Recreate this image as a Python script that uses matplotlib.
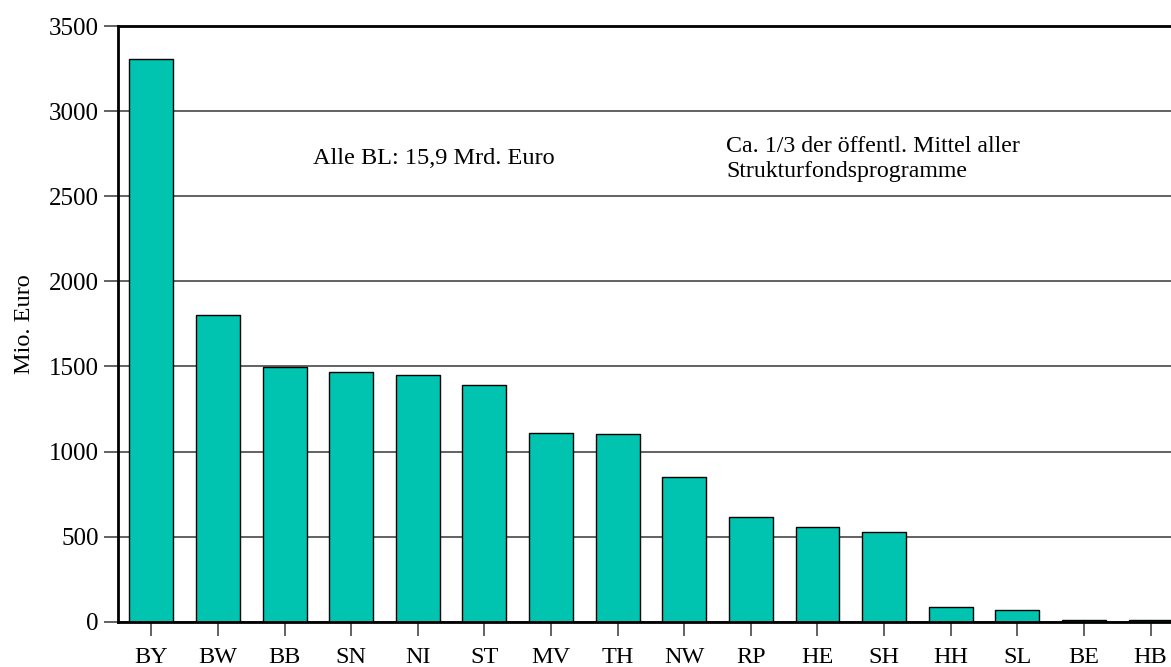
import matplotlib
matplotlib.use("Agg")
import matplotlib.pyplot as plt
from matplotlib.ticker import MultipleLocator

# Strukturfondsmittel je Bundesland (Mio. Euro)
laender = ["BY", "BW", "BB", "SN", "NI", "ST", "MV", "TH",
           "NW", "RP", "HE", "SH", "HH", "SL", "BE", "HB"]
mittel = [3308, 1805, 1497, 1470, 1449, 1388, 1108, 1104,
          850, 615, 554, 528, 85, 67, 8, 8]

plt.rcParams["font.family"] = ["Liberation Serif", "DejaVu Serif"]

fig = plt.figure(figsize=(11.71, 6.67), dpi=100)
ax = fig.add_axes([0.1008, 0.0679, 0.9102, 0.8931])

x = range(len(laender))
ax.bar(x, mittel, width=0.66, color="#00C4B0", edgecolor="black",
       linewidth=1.0, zorder=3)

ax.set_xlim(-0.5, len(laender) - 0.5)
ax.set_ylim(0, 3500)
ax.yaxis.set_major_locator(MultipleLocator(500))
ax.set_xticks(list(x))
ax.set_xticklabels(laender)

ax.grid(axis="y", color="#555555", linewidth=1.3, zorder=1)
ax.set_axisbelow(True)

for side in ("top", "left", "bottom"):
    ax.spines[side].set_linewidth(2.0)
    ax.spines[side].set_color("black")
    ax.spines[side].set_zorder(4)
ax.spines["right"].set_visible(False)

ax.tick_params(axis="y", length=10, width=1.3, color="#555555",
               labelsize=18, pad=4)
ax.tick_params(axis="x", length=10, width=1.3, color="#555555",
               labelsize=17.5, pad=8)

ax.set_ylabel("Mio. Euro", fontsize=17.5, labelpad=10)

ax.text(2.42, 2723, "Alle BL: 15,9 Mrd. Euro", fontsize=17.5,
        ha="left", va="center")
ax.text(8.63, 2720, "Ca. 1/3 der öffentl. Mittel aller\nStrukturfondsprogramme",
        fontsize=17.2, ha="left", va="center", linespacing=1.25)

fig.savefig("out.png", dpi=100)
